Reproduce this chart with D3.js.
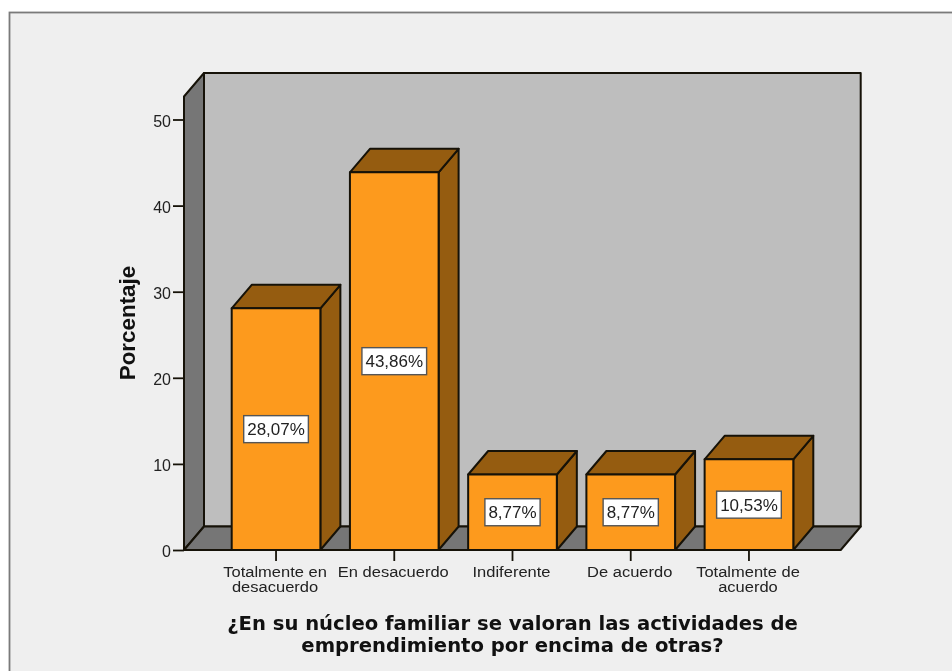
<!DOCTYPE html>
<html><head><meta charset="utf-8">
<script src="https://cdn.jsdelivr.net/npm/d3@7/dist/d3.min.js"></script>
<style>html,body{margin:0;padding:0;background:#fff}svg{display:block;filter:blur(0.4px)}</style>
</head><body><script>
const categories = ["Totalmente en desacuerdo","En desacuerdo","Indiferente","De acuerdo","Totalmente de acuerdo"];
const categoryLines = [["Totalmente en","desacuerdo"],["En desacuerdo"],["Indiferente"],["De acuerdo"],["Totalmente de","acuerdo"]];
const values = [28.07,43.86,8.77,8.77,10.53];
const valueLabels = ["28,07%","43,86%","8,77%","8,77%","10,53%"];
const yTicks = [0,10,20,30,40,50];
const yTitle = "Porcentaje";
const xTitle = ["¿En su núcleo familiar se valoran las actividades de","emprendimiento por encima de otras?"];

const W=952,H=671,dx=20,dy=23.5,ink="#161208";
const svg=d3.select("body").append("svg").attr("width",W).attr("height",H).attr("viewBox",`0 0 ${W} ${H}`);
svg.append("rect").attr("x",9.5).attr("y",12.5).attr("width",W+20).attr("height",H+20).attr("fill","#efefef").attr("stroke","#7a7a7a").attr("stroke-width",1.8);

const y=d3.scaleLinear().domain([0,50]).range([550,119.5]);
const x=d3.scaleBand().domain(categories).range([231.7,793.3]).paddingInner(0.25);
const wallLeft=184,wallRight=840.7,base=y(0),wallTop=96.5;
const poly=(pts,fill)=>svg.append("polygon").attr("points",pts.map(p=>p.join(",")).join(" ")).attr("fill",fill).attr("stroke",ink).attr("stroke-width",2).attr("stroke-linejoin","round");

poly([[wallLeft+dx,wallTop-dy],[wallRight+dx,wallTop-dy],[wallRight+dx,base-dy],[wallLeft+dx,base-dy]],"#bebebe");
poly([[wallLeft,wallTop],[wallLeft+dx,wallTop-dy],[wallLeft+dx,base-dy],[wallLeft,base]],"#767676");
poly([[wallLeft,base],[wallLeft+dx,base-dy],[wallRight+dx,base-dy],[wallRight,base]],"#767676");

categories.forEach((c,i)=>{
  const x0=x(c),x1=x0+x.bandwidth(),yt=y(values[i]);
  poly([[x1,yt],[x1+dx,yt-dy],[x1+dx,base-dy],[x1,base]],"#955c10");
  poly([[x0,yt],[x0+dx,yt-dy],[x1+dx,yt-dy],[x1,yt]],"#955c10");
  poly([[x0,yt],[x1,yt],[x1,base],[x0,base]],"#fd9a1d");
});

const yAxis=d3.axisLeft(y).tickValues(yTicks).tickSize(11).tickPadding(2).tickFormat(d3.format("d"));
const gy=svg.append("g").attr("transform",`translate(${wallLeft},0)`).call(yAxis);
gy.select(".domain").remove();
gy.selectAll("line").attr("stroke",ink).attr("stroke-width",1.8);
gy.selectAll("text").attr("y",1.5).attr("font-family","Liberation Sans").attr("font-size",16).attr("fill","#222");

const xAxis=d3.axisBottom(x).tickSize(11).tickFormat("");
const gx=svg.append("g").attr("transform",`translate(0,${base})`).call(xAxis);
gx.select(".domain").remove();
gx.selectAll("line").attr("stroke",ink).attr("stroke-width",1.8);
const tl=svg.append("g").attr("font-family","Liberation Sans").attr("font-size",14).attr("fill","#222").attr("text-anchor","middle");
categories.forEach((c,i)=>categoryLines[i].forEach((t,j)=>tl.append("text")
  .attr("transform",`translate(${x(c)+x.bandwidth()/2-1},${base+27+j*15}) scale(1.18,1.06)`).text(t)));

categories.forEach((c,i)=>{
  const cx=x(c)+x.bandwidth()/2,cy=(y(values[i])+base)/2;
  const g=svg.append("g");
  const t=g.append("text").attr("x",cx).attr("y",cy+6).attr("text-anchor","middle").attr("font-family","Liberation Sans").attr("font-size",17).attr("fill","#222").text(valueLabels[i]);
  const w=t.node().getComputedTextLength()+7;
  g.insert("rect","text").attr("x",cx-w/2).attr("y",cy-13.5).attr("width",w).attr("height",27).attr("fill","#fff").attr("stroke","#555").attr("stroke-width",1.4);
});

svg.append("text").attr("transform","translate(134.5,323) rotate(-90)").attr("text-anchor","middle").attr("font-family","Liberation Sans").attr("font-weight","bold").attr("font-size",22.4).attr("fill","#111").text(yTitle);
xTitle.forEach((t,j)=>svg.append("text").attr("x",512.5).attr("y",630+j*22).attr("text-anchor","middle").attr("font-family","DejaVu Sans").attr("font-weight","bold").attr("font-size",19.6).attr("fill","#111").text(t));
</script></body></html>
